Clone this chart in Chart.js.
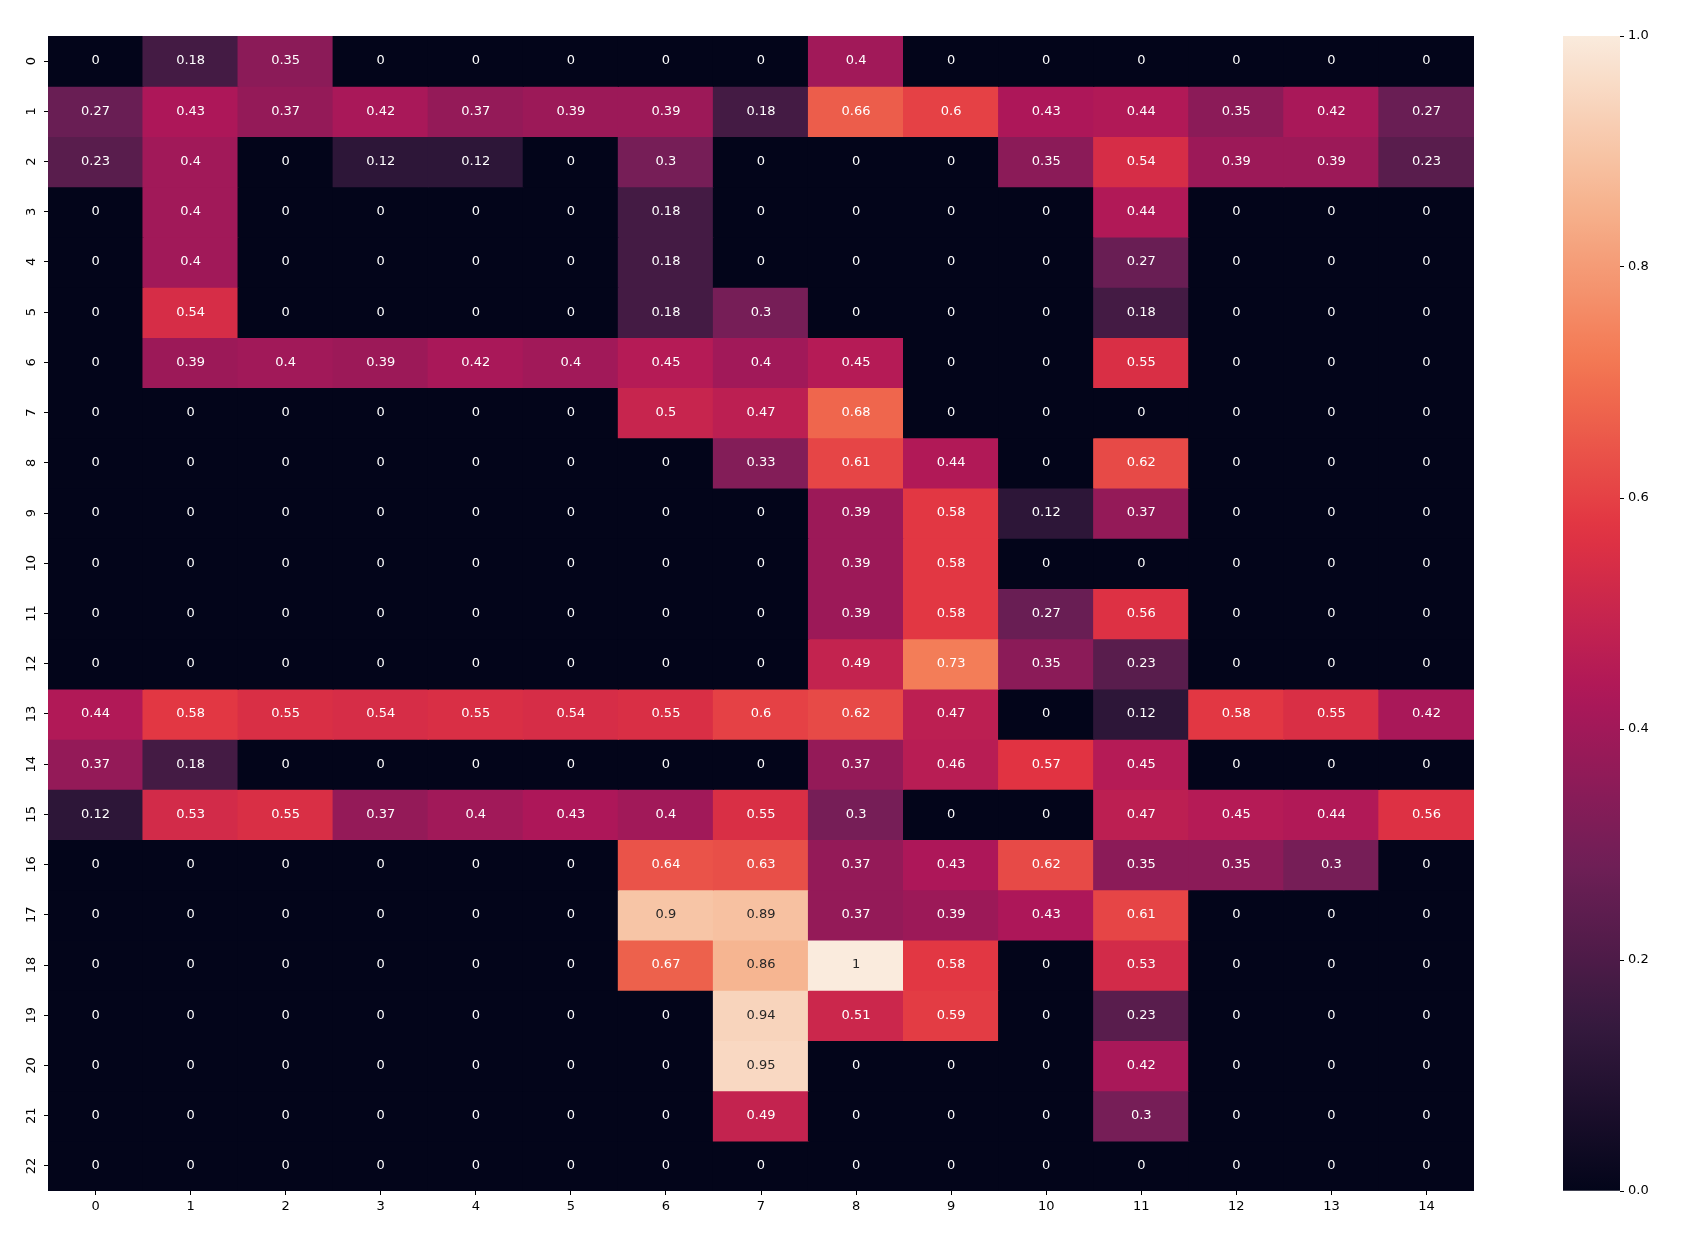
<!DOCTYPE html>
<html>
<head>
<meta charset="utf-8">
<script src="https://cdn.jsdelivr.net/npm/chart.js@4"></script>
<style>
  html, body { margin: 0; padding: 0; background: #fff; }
  body { width: 1681px; height: 1245px; position: relative; overflow: hidden; }
  #heatWrap { position: absolute; left: 0; top: 0; width: 1530px; height: 1245px; }
  #barWrap { position: absolute; left: 1500px; top: 0; width: 181px; height: 1245px; }
</style>
</head>
<body>
<div id="heatWrap"><canvas id="heat"></canvas></div>
<div id="barWrap"><canvas id="cbar"></canvas></div>
<script>
// column / row labels
var colLabels = ["0","1","2","3","4","5","6","7","8","9","10","11","12","13","14"];
var rowLabels = ["0","1","2","3","4","5","6","7","8","9","10","11","12","13","14","15","16","17","18","19","20","21","22"];
var cbarTicks = [0, 0.2, 0.4, 0.6, 0.8, 1.0];

// values, one array per row
var row0  = [0, 0.18, 0.35, 0, 0, 0, 0, 0, 0.4, 0, 0, 0, 0, 0, 0];
var row1  = [0.27, 0.43, 0.37, 0.42, 0.37, 0.39, 0.39, 0.18, 0.66, 0.6, 0.43, 0.44, 0.35, 0.42, 0.27];
var row2  = [0.23, 0.4, 0, 0.12, 0.12, 0, 0.3, 0, 0, 0, 0.35, 0.54, 0.39, 0.39, 0.23];
var row3  = [0, 0.4, 0, 0, 0, 0, 0.18, 0, 0, 0, 0, 0.44, 0, 0, 0];
var row4  = [0, 0.4, 0, 0, 0, 0, 0.18, 0, 0, 0, 0, 0.27, 0, 0, 0];
var row5  = [0, 0.54, 0, 0, 0, 0, 0.18, 0.3, 0, 0, 0, 0.18, 0, 0, 0];
var row6  = [0, 0.39, 0.4, 0.39, 0.42, 0.4, 0.45, 0.4, 0.45, 0, 0, 0.55, 0, 0, 0];
var row7  = [0, 0, 0, 0, 0, 0, 0.5, 0.47, 0.68, 0, 0, 0, 0, 0, 0];
var row8  = [0, 0, 0, 0, 0, 0, 0, 0.33, 0.61, 0.44, 0, 0.62, 0, 0, 0];
var row9  = [0, 0, 0, 0, 0, 0, 0, 0, 0.39, 0.58, 0.12, 0.37, 0, 0, 0];
var row10 = [0, 0, 0, 0, 0, 0, 0, 0, 0.39, 0.58, 0, 0, 0, 0, 0];
var row11 = [0, 0, 0, 0, 0, 0, 0, 0, 0.39, 0.58, 0.27, 0.56, 0, 0, 0];
var row12 = [0, 0, 0, 0, 0, 0, 0, 0, 0.49, 0.73, 0.35, 0.23, 0, 0, 0];
var row13 = [0.44, 0.58, 0.55, 0.54, 0.55, 0.54, 0.55, 0.6, 0.62, 0.47, 0, 0.12, 0.58, 0.55, 0.42];
var row14 = [0.37, 0.18, 0, 0, 0, 0, 0, 0, 0.37, 0.46, 0.57, 0.45, 0, 0, 0];
var row15 = [0.12, 0.53, 0.55, 0.37, 0.4, 0.43, 0.4, 0.55, 0.3, 0, 0, 0.47, 0.45, 0.44, 0.56];
var row16 = [0, 0, 0, 0, 0, 0, 0.64, 0.63, 0.37, 0.43, 0.62, 0.35, 0.35, 0.3, 0];
var row17 = [0, 0, 0, 0, 0, 0, 0.9, 0.89, 0.37, 0.39, 0.43, 0.61, 0, 0, 0];
var row18 = [0, 0, 0, 0, 0, 0, 0.67, 0.86, 1, 0.58, 0, 0.53, 0, 0, 0];
var row19 = [0, 0, 0, 0, 0, 0, 0, 0.94, 0.51, 0.59, 0, 0.23, 0, 0, 0];
var row20 = [0, 0, 0, 0, 0, 0, 0, 0.95, 0, 0, 0, 0.42, 0, 0, 0];
var row21 = [0, 0, 0, 0, 0, 0, 0, 0.49, 0, 0, 0, 0.3, 0, 0, 0];
var row22 = [0, 0, 0, 0, 0, 0, 0, 0, 0, 0, 0, 0, 0, 0, 0];

var rows = [row0, row1, row2, row3, row4, row5, row6, row7, row8, row9, row10, row11,
            row12, row13, row14, row15, row16, row17, row18, row19, row20, row21, row22];

// approx. "rocket" colormap stops
var rocket = [
  [0.0,   [3, 5, 26]],
  [0.143, [53, 25, 62]],
  [0.286, [112, 31, 87]],
  [0.429, [173, 23, 89]],
  [0.571, [225, 51, 66]],
  [0.714, [243, 118, 81]],
  [0.857, [246, 180, 143]],
  [1.0,   [250, 235, 221]]
];

function rocketRGB(v) {
  v = Math.max(0, Math.min(1, v));
  for (var i = 1; i < rocket.length; i++) {
    if (v <= rocket[i][0]) {
      var a = rocket[i - 1], b = rocket[i];
      var t = (v - a[0]) / (b[0] - a[0]);
      return [0, 1, 2].map(function (k) { return Math.round(a[1][k] + (b[1][k] - a[1][k]) * t); });
    }
  }
  return rocket[rocket.length - 1][1];
}
function rocketCss(v) {
  var c = rocketRGB(v);
  return 'rgb(' + c[0] + ',' + c[1] + ',' + c[2] + ')';
}
function textColor(v) {
  var c = rocketRGB(v).map(function (x) {
    x = x / 255;
    return x <= 0.03928 ? x / 12.92 : Math.pow((x + 0.055) / 1.055, 2.4);
  });
  var lum = 0.2126 * c[0] + 0.7152 * c[1] + 0.0722 * c[2];
  return lum > 0.408 ? '#262626' : '#ffffff';
}

var FONT = '"DejaVu Sans", sans-serif';

var datasets = rows.map(function (vals, r) {
  return {
    label: rowLabels[r],
    data: vals.map(function () { return [r, r + 1]; }),
    values: vals,
    backgroundColor: vals.map(rocketCss),
    borderWidth: 0,
    inflateAmount: 0.6,
    barPercentage: 1,
    categoryPercentage: 1
  };
});

// writes the value in each cell
var cellText = {
  id: 'cellText',
  afterDatasetsDraw: function (chart) {
    var ctx = chart.ctx;
    ctx.save();
    ctx.font = '13px ' + FONT;
    ctx.textAlign = 'center';
    ctx.textBaseline = 'middle';
    chart.data.datasets.forEach(function (ds, i) {
      var meta = chart.getDatasetMeta(i);
      meta.data.forEach(function (bar, j) {
        var v = ds.values[j];
        var p = bar.getCenterPoint();
        ctx.fillStyle = textColor(v);
        ctx.fillText(String(v), p.x, p.y);
      });
    });
    ctx.restore();
  }
};

new Chart(document.getElementById('heat'), {
  type: 'bar',
  data: { labels: colLabels, datasets: datasets },
  plugins: [cellText],
  options: {
    responsive: true,
    maintainAspectRatio: false,
    animation: false,
    layout: { padding: { top: 36, right: 56, bottom: 0, left: 0 } },
    plugins: { legend: { display: false }, tooltip: { enabled: false } },
    datasets: { bar: { grouped: false } },
    scales: {
      x: {
        grid: { offset: false, drawOnChartArea: false, tickLength: 4, tickColor: '#000' },
        border: { display: false },
        ticks: { color: '#000', font: { family: FONT, size: 13 }, padding: 4, maxRotation: 0, minRotation: 0 },
        afterFit: function (s) { s.height = 54; }
      },
      y: {
        type: 'linear',
        min: 0,
        max: 23,
        reverse: true,
        grid: { drawOnChartArea: false, tickLength: 4, tickColor: '#000' },
        border: { display: false },
        afterBuildTicks: function (s) {
          s.ticks = rowLabels.map(function (l, i) { return { value: i + 0.5 }; });
        },
        ticks: {
          color: '#000',
          font: { family: FONT, size: 13 },
          minRotation: 90,
          maxRotation: 90,
          crossAlign: 'center',
          padding: 4,
          callback: function (v) { return rowLabels[Math.floor(v)]; }
        },
        afterFit: function (s) { s.width = 48; }
      }
    }
  }
});

// colour bar
var cbarGradient = function (context) {
  var chart = context.chart;
  var area = chart.chartArea;
  if (!area) return 'rgb(3,5,26)';
  var g = chart.ctx.createLinearGradient(0, area.bottom, 0, area.top);
  for (var i = 0; i <= 50; i++) {
    g.addColorStop(i / 50, rocketCss(i / 50));
  }
  return g;
};

new Chart(document.getElementById('cbar'), {
  type: 'bar',
  data: {
    labels: ['c'],
    datasets: [{ data: [[0, 1]], backgroundColor: cbarGradient, borderWidth: 0, barPercentage: 1, categoryPercentage: 1 }]
  },
  options: {
    responsive: true,
    maintainAspectRatio: false,
    animation: false,
    layout: { padding: { top: 36, right: 0, bottom: 54, left: 63 } },
    plugins: { legend: { display: false }, tooltip: { enabled: false } },
    scales: {
      x: { display: false },
      y: {
        position: 'right',
        min: 0,
        max: 1,
        grid: { drawOnChartArea: false, tickLength: 4, tickColor: '#000' },
        border: { display: false },
        afterBuildTicks: function (s) {
          s.ticks = cbarTicks.map(function (v) { return { value: v }; });
        },
        ticks: {
          color: '#000',
          font: { family: FONT, size: 13 },
          padding: 4,
          callback: function (v) { return Number(v).toFixed(1); }
        },
        afterFit: function (s) { s.width = 61; }
      }
    }
  }
});
</script>
</body>
</html>
